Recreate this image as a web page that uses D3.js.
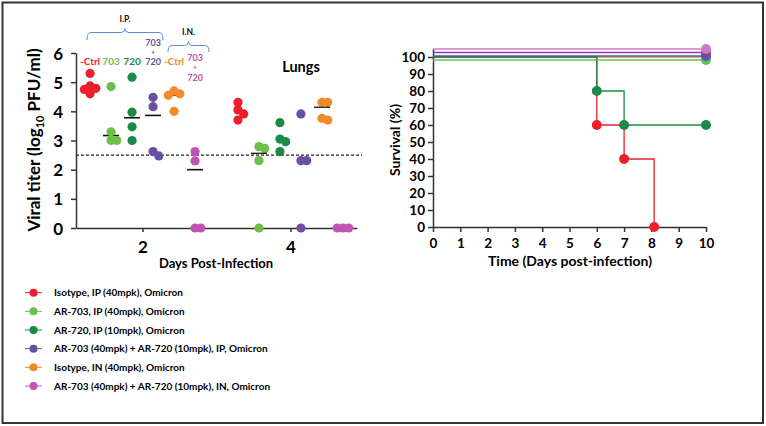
<!DOCTYPE html>
<html><head><meta charset="utf-8">
<script src="https://cdn.jsdelivr.net/npm/d3@7"></script>
<style>
body{margin:0;background:#fff;}
svg{display:block;font-family:Lato,"Open Sans",sans-serif;font-weight:bold;}
</style></head>
<body><svg id="c" width="766" height="426"></svg>
<script>
// ---------- DATA ----------
const groups = ["isoIP","ar703IP","ar720IP","comboIP","isoIN","comboIN"];
const groupColors = ["#ee1f2a","#6cc04a","#1c8a45","#6a4fa3","#f28a2a","#c054b0"];
const legendLabels = [
  "Isotype, IP (40mpk), Omicron",
  "AR-703, IP (40mpk), Omicron",
  "AR-720, IP (10mpk), Omicron",
  "AR-703 (40mpk) + AR-720 (10mpk), IP, Omicron",
  "Isotype, IN (40mpk), Omicron",
  "AR-703 (40mpk) + AR-720 (10mpk), IN, Omicron"
];
const days = [2, 4];
const titerDay2 = [
  [5.30, 4.87, 4.79, 4.75, 4.60],
  [4.85, 3.30, 3.00, 3.00],
  [5.17, 3.97, 3.47, 3.00],
  [4.48, 4.16, 2.62, 2.47],
  [4.70, 4.60, 4.55, 4.00],
  [2.62, 2.30, 0, 0]
];
const titerDay4 = [
  [4.31, 4.05, 3.91, 3.70],
  [2.79, 2.73, 2.31, 0],
  [3.61, 3.05, 2.96, 2.62],
  [3.91, 2.31, 2.31, 0],
  [4.31, 4.31, 3.76, 3.70],
  [0, 0, 0]
];
const centerDay2 = [4.83, 3.17, 3.78, 3.86, 4.56, 2.00];
const centerDay4 = [null, 2.56, null, null, 4.14, null];
const detectionLimit = 2.5;
const yTicksL = [0,1,2,3,4,5,6];
const groupLabels = [["-Ctrl"],["703"],["720"],["703","+","720"],["-Ctrl"],["703","+","720"]];

// survival (Kaplan-Meier)
const survSeries = [
  {name:"isoIN",   color:"#f28a2a", pts:[[0,100],[10,100]], marks:[[10,100]]},
  {name:"isoIP",   color:"#ee1f2a", pts:[[0,100],[6,60],[7,40],[8.1,0]], marks:[[6,60],[7,40],[8.1,0]]},
  {name:"ar720IP", color:"#1c8a45", pts:[[0,100],[6,80],[7,60],[10,60]], marks:[[6,80],[7,60],[10,60]]},
  {name:"ar703IP", color:"#6cc04a", pts:[[0,100],[10,100]], marks:[[10,100]]},
  {name:"comboIP", color:"#4a5bb8", pts:[[0,100],[10,100]], marks:[[10,100]]},
  {name:"comboIP2",color:"#8b3f98", pts:[[0,100],[10,100]], marks:[[10,100]]},
  {name:"comboIN", color:"#d07ac6", pts:[[0,100],[10,100]], marks:[[10,100]]}
];
// visual stacking nudge (px) for overlapping 100% lines, as in the figure
const survNudge = {isoIN:0, isoIP:0, ar720IP:0, ar703IP:3, comboIP:-1, comboIP2:-4.5, comboIN:-8};
const xTicksR = [0,1,2,3,4,5,6,7,8,9,10];
const yTicksR = [0,10,20,30,40,50,60,70,80,90,100];

// ---------- DRAW ----------
const svg = d3.select("#c");
const axisColor = "#333";
svg.append("rect").attr("x",2.5).attr("y",2.5).attr("width",760.5).attr("height",420.5)
  .attr("fill","none").attr("stroke","#333").attr("stroke-width",2);

// Left chart
const xL = d3.scaleLinear().domain([1.1, 4.9]).range([76, 357]);
const yL = d3.scaleLinear().domain([0, 6]).range([228, 53]);
const gOff = d3.scalePoint().domain(groups).range([-52.5, 52.5]);
const R = 4.6;

const L = svg.append("g");
L.append("line").attr("x1",xL(1.1)).attr("x2",362).attr("y1",yL(detectionLimit)).attr("y2",yL(detectionLimit))
  .attr("stroke","#222").attr("stroke-width",1.1).attr("stroke-dasharray","3,2");

const ax = L.append("g").attr("transform",`translate(0,${yL(0)})`)
  .call(d3.axisBottom(xL).tickValues(days).tickSize(4).tickSizeOuter(0).tickFormat(d3.format("d")));
const ay = L.append("g").attr("transform",`translate(${xL(1.1)},0)`)
  .call(d3.axisLeft(yL).tickValues(yTicksL).tickSize(5).tickSizeOuter(0).tickPadding(8).tickFormat(d3.format("d")));
[ax, ay].forEach(a=>{
  a.select(".domain").attr("stroke",axisColor).attr("stroke-width",1.5);
  a.selectAll(".tick line").attr("stroke",axisColor).attr("stroke-width",1.5);
  a.selectAll("text").attr("fill","#000").attr("font-size",17).attr("font-family","Lato").attr("font-weight","bold");
});
ax.selectAll("text").attr("dy","1.05em");
ay.selectAll("text").attr("dy","0.36em");

// beeswarm-like dodge
function dodge(vals){
  const placed=[]; const step=R*1.25;
  const sorted = vals.map((v,i)=>({v,i})).sort((a,b)=>b.v-a.v);
  sorted.forEach(p=>{
    const y=yL(p.v);
    const cands=[0,step,-step,2*step,-2*step,3*step,-3*step];
    let off=0;
    for(const c of cands){
      if(placed.every(q=>Math.hypot(q.x-c,q.y-y)>=R*1.25)){off=c;break;}
    }
    placed.push({x:off,y,v:p.v});
  });
  return placed;
}
[titerDay2, titerDay4].forEach((set, di)=>{
  const centers = di===0?centerDay2:centerDay4;
  set.forEach((vals, gi)=>{
    const cx = xL(days[di]) + gOff(groups[gi]);
    const c = centers[gi];
    if(c!==null && di===0){
      L.append("line").attr("x1",cx-8).attr("x2",cx+8).attr("y1",yL(c)).attr("y2",yL(c))
        .attr("stroke","#111").attr("stroke-width",1.6);
    }
    const pts = dodge(vals);
    L.append("g").selectAll("circle").data(pts).join("circle")
      .attr("cx",d=>cx+d.x).attr("cy",d=>d.y).attr("r",R).attr("fill",groupColors[gi]);
    if(c!==null && di===1){
      L.append("line").attr("x1",cx-8).attr("x2",cx+8).attr("y1",yL(c)).attr("y2",yL(c))
        .attr("stroke","#222").attr("stroke-width",1.4);
    }
  });
});

// group labels (stacked lines, tight like the figure)
const stackTop = {comboIP:45.5, comboIN:61};
groupLabels.forEach((lines,gi)=>{
  const cx = xL(2)+gOff(groups[gi]);
  const y0 = stackTop[groups[gi]] || 64.5;
  const gaps = [0, 9, 19.5];
  lines.forEach((s,k)=>{
    L.append("text").attr("x",cx).attr("y",y0+gaps[k]).attr("text-anchor","middle")
      .attr("font-size",s==="+"?7:(lines.length>1?9:10)).attr("fill",groupColors[gi]).text(s);
  });
});
// brackets
function bracket(x1,x2,yTop,yEnd,label,ly){
  const mx=(x1+x2)/2;
  const p=`M${x1},${yEnd} Q${x1},${yTop} ${x1+4},${yTop} L${mx-4},${yTop} Q${mx},${yTop} ${mx},${yTop-4} Q${mx},${yTop} ${mx+4},${yTop} L${x2-4},${yTop} Q${x2},${yTop} ${x2},${yEnd}`;
  L.append("path").attr("d",p).attr("fill","none").attr("stroke","#5b8ed3").attr("stroke-width",1);
  L.append("text").attr("x",mx).attr("y",ly).attr("text-anchor","middle").attr("font-size",8.5).attr("fill","#111").text(label);
}
bracket(87,163,32.5,40,"I.P.",22);
bracket(168,209,45.5,52,"I.N.",35);

L.append("text").attr("x",301).attr("y",72).attr("text-anchor","middle").attr("font-size",14.5).text("Lungs");
L.append("text").attr("x",216).attr("y",268).attr("text-anchor","middle").attr("font-size",13).text("Days Post-Infection");
const yt = L.append("text").attr("transform","translate(40,140) rotate(-90)").attr("text-anchor","middle").attr("font-size",17);
yt.append("tspan").text("Viral titer (log");
yt.append("tspan").attr("font-size",11).attr("dy",4).text("10");
yt.append("tspan").attr("dy",-4).text(" PFU/ml)");

// Right chart
const xR = d3.scaleLinear().domain([0,10]).range([433,706]);
const yR = d3.scaleLinear().domain([0,105]).range([227,48.5]);
const axR = svg.append("g").attr("transform",`translate(0,${yR(0)})`)
  .call(d3.axisBottom(xR).tickValues(xTicksR).tickSize(5).tickSizeOuter(0).tickFormat(d3.format("d")));
const ayR = svg.append("g").attr("transform",`translate(${xR(0)},0)`)
  .call(d3.axisLeft(yR).tickValues(yTicksR).tickSize(5).tickSizeOuter(0).tickPadding(3));
[axR, ayR].forEach(a=>{
  a.select(".domain").attr("stroke",axisColor).attr("stroke-width",1.5);
  a.selectAll(".tick line").attr("stroke",axisColor).attr("stroke-width",1.5);
  a.selectAll("text").attr("fill","#000").attr("font-size",13.5).attr("font-family","Lato").attr("font-weight","bold");
});
axR.selectAll("text").attr("dy","0.95em");
ayR.selectAll("text").attr("dy","0.36em");

const stepLine = d3.line().x(d=>xR(d[0])).y(d=>yR(d[1])).curve(d3.curveStepAfter);
survSeries.forEach(s=>{
  const nud = survNudge[s.name]||0;
  const g = svg.append("g").attr("transform",`translate(0,${nud})`);
  g.append("path").attr("d",stepLine(s.pts)).attr("fill","none").attr("stroke",s.color).attr("stroke-width",1.3);
  g.selectAll("circle").data(s.marks).join("circle").attr("cx",d=>xR(d[0])).attr("cy",d=>yR(d[1]))
    .attr("r",5).attr("fill",s.color);
});
svg.append("text").attr("x",570).attr("y",266).attr("text-anchor","middle").attr("font-size",14).text("Time (Days post-infection)");
svg.append("text").attr("transform","translate(400,140) rotate(-90)").attr("text-anchor","middle").attr("font-size",14).text("Survival (%)");

// Legend
const legY = d3.scalePoint().domain(groups).range([292.7,386]);
const lg = svg.append("g");
groups.forEach((g,i)=>{
  const y = legY(g);
  lg.append("line").attr("x1",25).attr("x2",42).attr("y1",y).attr("y2",y).attr("stroke",groupColors[i]).attr("stroke-width",1);
  lg.append("circle").attr("cx",33.5).attr("cy",y).attr("r",4).attr("fill",groupColors[i]);
  lg.append("text").attr("x",54).attr("y",y).attr("dy","0.35em").attr("font-size",10).text(legendLabels[i]);
});
</script></body></html>
